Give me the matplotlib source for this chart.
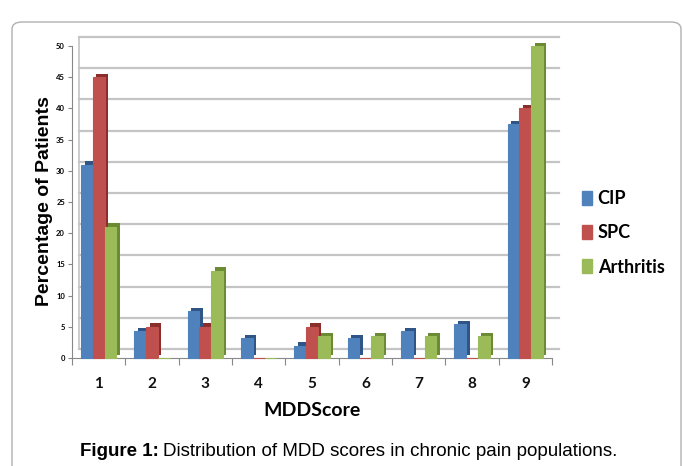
import matplotlib
matplotlib.use("Agg")
import matplotlib.pyplot as plt
import matplotlib.patheffects as pe
from matplotlib.transforms import ScaledTranslation
from matplotlib.patches import FancyBboxPatch, Patch
import numpy as np

categories = ["1", "2", "3", "4", "5", "6", "7", "8", "9"]
cip = [31, 4.3, 7.5, 3.2, 2, 3.2, 4.3, 5.4, 37.5]
spc = [45, 5, 5, 0, 5, 0, 0, 0, 40]
arthritis = [21, 0, 14, 0, 3.5, 3.5, 3.5, 3.5, 50]
series_names = ["CIP", "SPC", "Arthritis"]
yticks = [0, 5, 10, 15, 20, 25, 30, 35, 40, 45, 50]

colors = ["#4F81BD", "#C0504D", "#9BBB59"]
dark = ["#2F5486", "#8A2E2C", "#6A8A33"]

fig = plt.figure(figsize=(6.83, 4.66), dpi=100)
# outer rounded border
border = FancyBboxPatch((12/683, -0.05), (683-14)/683, (466-12)/466 + 0.05 - 10/466,
                        boxstyle="round,pad=0,rounding_size=0.015",
                        transform=fig.transFigure, fc="white", ec="#b0b0b0", lw=1.0,
                        zorder=-10)
fig.patches.append(border)

ax = fig.add_axes([72/683, 1-358/466, (552-72)/683, (358-46)/466])
ax.set_facecolor("none")
ax.set_xlim(0.5, 9.5)
ax.set_ylim(0, 50)
x = np.arange(1, len(categories)+1)
w = 0.22

# back-wall gridlines (offset up-right to mimic 3D)
ax.set_yticks(yticks)
ax.yaxis.grid(True, color="#c4c4c4", lw=1.6)
ax.set_axisbelow(True)
off = ScaledTranslation(7/100, 9/100, fig.dpi_scale_trans)
for gl in ax.get_ygridlines():
    gl.set_transform(gl.get_transform() + off)
    gl.set_clip_on(False)
ax.vlines(0.5, 0, 50, colors="#c4c4c4", lw=1.2, transform=ax.transData + off,
          zorder=1, clip_on=False)

for i, (vals, c, d) in enumerate(zip([cip, spc, arthritis], colors, dark)):
    bars = ax.bar(x + (i-1)*w, vals, width=w, color=c, edgecolor=c, lw=0.8,
                  zorder=3+i, clip_on=False)
    for b in bars:
        b.set_path_effects([pe.SimplePatchShadow(offset=(2.5, 2.5), shadow_rgbFace=d, alpha=1.0),
                            pe.Normal()])

for s in ["top", "right"]:
    ax.spines[s].set_visible(False)
ax.spines["left"].set_color("#888888")
ax.spines["bottom"].set_color("#888888")
ax.set_xticks(np.arange(0.5, 10.0, 1.0))
ax.set_xticklabels([])
ax.tick_params(axis="x", length=5, color="#888888", direction="out")
for xi, lab in zip(x, categories):
    ax.text(xi, -4.2, lab, ha="center", va="center", fontsize=11, fontweight="bold",
            family="Lato", color="#111111")
ax.set_yticklabels([str(t) for t in yticks], fontsize=5.5, fontweight="bold", family="Lato")
ax.tick_params(axis="y", length=3, color="#888888", pad=2)

fig.text(312/683, 1-411/466, "MDDScore", ha="center", va="center", fontsize=14,
         fontweight="bold", family="Lato")
fig.text(45/683, 1-201/466, "Percentage of Patients", ha="center", va="center",
         rotation=90, fontsize=14, fontweight="bold", family="Liberation Sans")

handles = [Patch(facecolor=c, edgecolor=c) for c in colors]
leg = fig.legend(handles, series_names, loc="center left", bbox_to_anchor=(566/683, 1-233/466),
                 frameon=False, prop={"family": "Lato", "weight": "bold", "size": 13},
                 handlelength=0.55, handleheight=0.8, handletextpad=0.3, labelspacing=0.95)

t1 = fig.text(80/683, 1-451/466, "Figure 1:", ha="left", va="center", fontsize=13.5,
              fontweight="bold", family="Liberation Sans")
fig.canvas.draw()
bb = t1.get_window_extent()
fig.text((bb.x1 + 4)/683, 1-451/466, "Distribution of MDD scores in chronic pain populations.",
         ha="left", va="center", fontsize=13.5, family="Liberation Sans")

fig.savefig("out.png", dpi=100)
